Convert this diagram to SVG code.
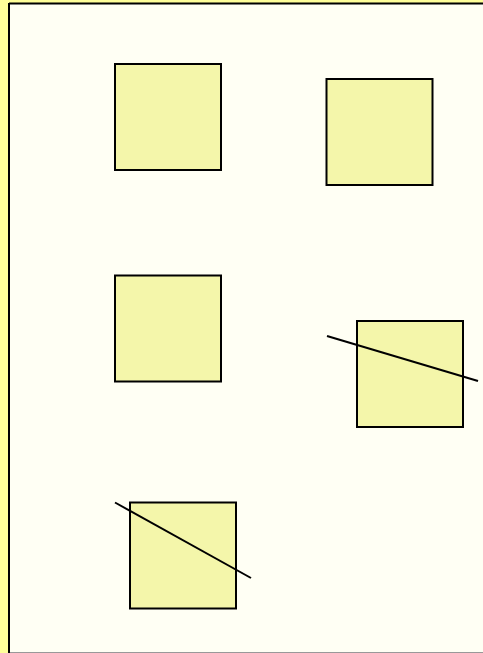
<svg xmlns="http://www.w3.org/2000/svg" width="483" height="653" viewBox="0 0 483 653">
<style>
.box{fill:#f4f6aa;stroke:#000;stroke-width:2}
.ln{stroke:#000;stroke-width:2;fill:none}
</style>
<rect x="0" y="0" width="483" height="653" fill="#ffff99"/>
<rect x="9" y="4" width="474" height="649" fill="#fffff4"/>
<line x1="9" y1="3.5" x2="483" y2="3.5" stroke="#000" stroke-width="2"/>
<line x1="9" y1="3" x2="9" y2="653" stroke="#000" stroke-width="2"/>
<line x1="10" y1="652.5" x2="483" y2="652.5" stroke="#999" stroke-width="1"/>
<g id="n1"><rect class="box" x="115" y="64" width="106" height="106"/></g>
<g id="n2"><rect class="box" x="326.5" y="79" width="106" height="106"/></g>
<g id="n3"><rect class="box" x="115" y="275.5" width="106" height="106"/></g>
<g id="n4"><rect class="box" x="357" y="321" width="106" height="106"/></g>
<g id="n5"><rect class="box" x="130" y="502.5" width="106" height="106"/></g>
<g id="connectors">
<line class="ln" x1="327" y1="336" x2="478" y2="381"/>
<line class="ln" x1="115" y1="502.5" x2="251" y2="578"/>
</g>
</svg>
